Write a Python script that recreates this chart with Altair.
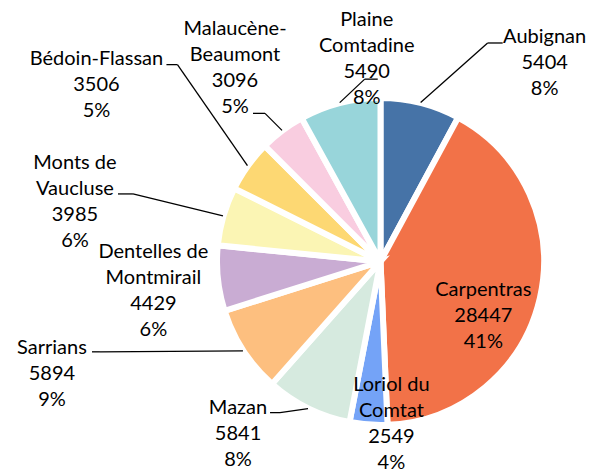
import altair as alt
import pandas as pd

# ---- data ----
COMMUNES = ["Aubignan", "Carpentras", "Loriol du Comtat", "Mazan", "Sarrians",
            "Dentelles de Montmirail", "Monts de Vaucluse", "Bédoin-Flassan",
            "Malaucène-Beaumont", "Plaine Comtadine"]
POPULATION = [5404, 28447, 2549, 5841, 5894, 4429, 3985, 3506, 3096, 5490]
PERCENT = [8, 41, 4, 8, 9, 6, 6, 5, 5, 8]
NAME_LINES = ["Aubignan", "Carpentras", "Loriol du\nComtat", "Mazan", "Sarrians",
              "Dentelles de\nMontmirail", "Monts de\nVaucluse", "Bédoin-Flassan",
              "Malaucène-\nBeaumont", "Plaine\nComtadine"]

# ---- styling / label layout (offsets relative to each slice's edge point) ----
COLORS = ["#4673a7", "#f27248", "#74a3f7", "#d6eadf", "#fdbf7f",
          "#c9acd3", "#fbf5b4", "#fdd873", "#f9cde0", "#98d5da"]
TEXT_DX = [124, -57, 23, -70, -191, -64, -148, -151, -47, 27]
TEXT_DY = [-65.5, -8.4, -40, -0.7, -3, -26.5, -53, -107, -101.5, -82.5]
HAS_LEADER = [1, 0, 0, 1, 1, 0, 1, 1, 1, 1]
ELBOW_DX = [67, 0, 0, -28, -143, 0, -90, -70, -17, 25]
ELBOW_DY = [-59.5, 0, 0, 4, 1, 0, -22, -101, -17, -23.5]
END_DX = [82, 0, 0, -38, -151, 0, -105, -81, -29, 38]
END_DY = [-59.5, 0, 0, 4, 1, 0, -22, -101, -17, -23.5]

CX, CY = 372.5, 253.5
R = 163.5
R_LINE = 164

df = pd.DataFrame({
    "order": list(range(len(COMMUNES))),
    "commune": COMMUNES,
    "value": POPULATION,
    "label": [f"{n}\n{v}\n{p}%" for n, v, p in zip(NAME_LINES, POPULATION, PERCENT)],
    "tdx": TEXT_DX, "tdy": TEXT_DY, "lead": HAS_LEADER,
    "edx": ELBOW_DX, "edy": ELBOW_DY, "adx": END_DX, "ady": END_DY,
})

base = alt.Chart(df)

arcs = base.mark_arc(radius=R, stroke="white", strokeWidth=6).encode(
    theta=alt.Theta("value:Q", stack=True),
    order=alt.Order("order:Q"),
    color=alt.Color("commune:N", scale=alt.Scale(domain=COMMUNES, range=COLORS), legend=None),
    x=alt.value(CX),
    y=alt.value(CY),
)

geo = base.transform_window(
    cum="sum(value)", sort=[alt.SortField("order")], frame=[None, 0]
).transform_joinaggregate(
    total="sum(value)"
).transform_calculate(
    mid="2*PI*(datum.cum - datum.value/2)/datum.total"
).transform_calculate(
    px=f"{CX} + {R_LINE}*sin(datum.mid)",
    py=f"{CY} - {R_LINE}*cos(datum.mid)",
).transform_calculate(
    tx="datum.px + datum.tdx", ty="datum.py + datum.tdy",
    ex="datum.px + datum.edx", ey="datum.py + datum.edy",
    ax="datum.px + datum.adx", ay="datum.py + datum.ady",
)

texts = geo.mark_text(font="Lato", fontSize=20, lineHeight=26, lineBreak="\n",
                      align="center", baseline="middle", color="black").encode(
    x=alt.X("tx:Q", scale=None, axis=None),
    y=alt.Y("ty:Q", scale=None, axis=None),
    text="label:N",
)

lead = geo.transform_filter("datum.lead == 1")
seg1 = lead.mark_rule(color="black", strokeWidth=1.3).encode(
    x=alt.X("px:Q", scale=None, axis=None), y=alt.Y("py:Q", scale=None, axis=None),
    x2="ex:Q", y2="ey:Q",
)
seg2 = lead.mark_rule(color="black", strokeWidth=1.3).encode(
    x=alt.X("ex:Q", scale=None, axis=None), y=alt.Y("ey:Q", scale=None, axis=None),
    x2="ax:Q", y2="ay:Q",
)

chart = alt.layer(arcs, seg1, seg2, texts).properties(
    width=587, height=463, autosize=alt.AutoSizeParams(type="none"), padding=0,
    background="white",
).configure_view(stroke=None)

chart.save("out.html", embed_options={"renderer": "svg", "actions": False})
